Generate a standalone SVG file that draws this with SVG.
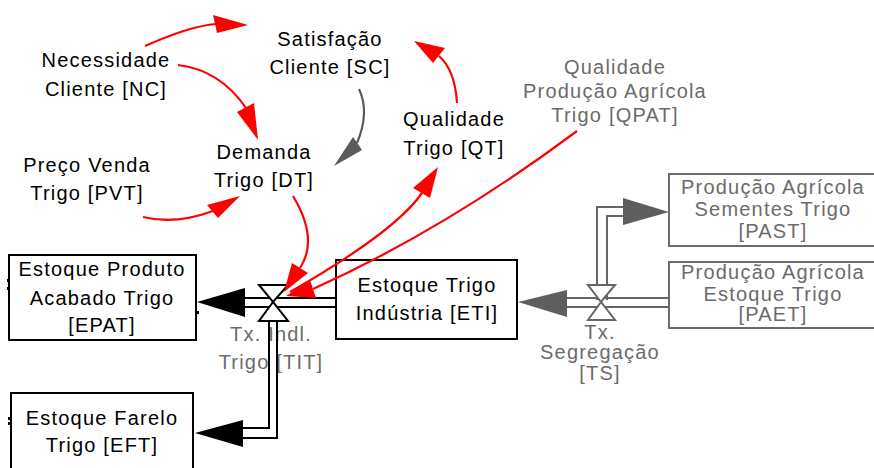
<svg xmlns="http://www.w3.org/2000/svg" width="874" height="468" viewBox="0 0 874 468">
<style>
.t{font-family:"Liberation Sans",Arial,sans-serif;font-size:20px;letter-spacing:1.2px;text-anchor:middle;fill:#000}
.g{fill:#6b6b6b}
.box{fill:#fff;stroke:#000;stroke-width:2}
.gbox{fill:#fff;stroke:#6b6b6b;stroke-width:2}
.red{fill:none;stroke:#f00;stroke-width:2.2}
.rh{fill:#f00}
.pipe{fill:none;stroke:#000;stroke-width:2}
.gpipe{fill:none;stroke:#666;stroke-width:2}
.valve{fill:#fff;stroke:#000;stroke-width:2}
.gvalve{fill:#fff;stroke:#666;stroke-width:2}
</style>
<rect width="874" height="468" fill="#fff"/>

<g id="NC"><text class="t" x="106" y="67">Necessidade</text><text class="t" x="106" y="96">Cliente [NC]</text></g>
<g id="SC"><text class="t" x="330" y="46">Satisfação</text><text class="t" x="330" y="74">Cliente [SC]</text></g>
<g id="DT"><text class="t" x="264" y="159">Demanda</text><text class="t" x="264" y="187">Trigo [DT]</text></g>
<g id="PVT"><text class="t" x="87" y="172">Preço Venda</text><text class="t" x="87" y="200">Trigo [PVT]</text></g>
<g id="QT"><text class="t" x="454" y="126">Qualidade</text><text class="t" x="454" y="155">Trigo [QT]</text></g>
<g id="QPAT"><text class="t g" x="615" y="74">Qualidade</text><text class="t g" x="615" y="98">Produção Agrícola</text><text class="t g" x="615" y="122">Trigo [QPAT]</text></g>

<g id="EPAT"><rect class="box" x="9" y="255" width="187" height="85"/>
<text class="t" x="102" y="276">Estoque Produto</text><text class="t" x="102" y="305">Acabado Trigo</text><text class="t" x="102" y="332">[EPAT]</text>
<path d="M8 279v3M8 287v3M198 311v3" stroke="#000" stroke-width="2"/></g>
<g id="ETI"><rect class="box" x="336" y="260" width="181" height="79"/>
<text class="t" x="427" y="292">Estoque Trigo</text><text class="t" x="427" y="320">Indústria [ETI]</text></g>
<g id="EFT"><rect class="box" x="11" y="393" width="182" height="80"/>
<text class="t" x="102" y="425">Estoque Farelo</text><text class="t" x="102" y="452">Trigo [EFT]</text>
<path d="M9 417v3M9 422v3" stroke="#000" stroke-width="2"/></g>
<g id="PAST"><rect class="gbox" x="669" y="174" width="215" height="72"/>
<text class="t g" x="773" y="194">Produção Agrícola</text><text class="t g" x="773" y="216">Sementes Trigo</text><text class="t g" x="773" y="238">[PAST]</text></g>
<g id="PAET"><rect class="gbox" x="669" y="262" width="215" height="66"/>
<text class="t g" x="773" y="279">Produção Agrícola</text><text class="t g" x="773" y="301">Estoque Trigo</text><text class="t g" x="773" y="321">[PAET]</text></g>
<g id="TIT-label"><text class="t g" x="271" y="341">Tx. Indl.</text><text class="t g" x="271" y="369">Trigo [TIT]</text></g>
<g id="TS-label"><text class="t g" x="600" y="339">Tx.</text><text class="t g" x="600" y="359">Segregação</text><text class="t g" x="600" y="380">[TS]</text></g>

<g id="connectors">
<!-- TIT flow -->
<path class="pipe" d="M240 298H336M240 307H269M277 307H336"/>
<path class="pipe" d="M269 307V428H238M277 307V438H238"/>
<polygon points="197,302 245,288 245,317" fill="#000"/>
<polygon points="195,433 243,420 243,447" fill="#000"/>
<g id="TIT"><polygon class="valve" points="259,285 288,285 273,302"/><polygon class="valve" points="273,302 259,321 288,321"/></g>
<!-- TS flow -->
<path class="gpipe" d="M560 298H669M560 307H669"/>
<path class="gpipe" d="M597 300V207H628M607 300V216H628"/>
<polygon points="518,302 567,290 567,317" fill="#5e5e5e"/>
<polygon points="669,212 623,198 623,225" fill="#5e5e5e"/>
<g id="TS"><polygon class="gvalve" points="588,285 615,285 601,302"/><polygon class="gvalve" points="601,302 588,320 615,320"/></g>
<!-- info links -->
<path class="red" d="M145 46Q190 26 216 24"/>
<polygon class="rh" points="248,25 213,15 217,33"/>
<path class="red" d="M178 65Q220 70 246 108"/>
<polygon class="rh" points="258,140 237,112 254,103"/>
<path class="red" d="M143 217Q175 225 213 211"/>
<polygon class="rh" points="240,196 207,205 218,218"/>
<path fill="none" stroke="#5a5a5a" stroke-width="2.2" d="M359 89Q370 112 357 143"/>
<polygon points="334,166 353,137 362,150" fill="#5a5a5a"/>
<path class="red" d="M457 103Q455 70 439 56"/>
<polygon class="rh" points="414,41 445,48 433,63"/>
<path class="red" d="M290 292Q395 232 422 193"/>
<polygon class="rh" points="438,167 413,188 430,198"/>
<path class="red" d="M577 131Q446 229 313 289"/>
<polygon class="rh" points="286,296 310,280 316,298"/>
<path class="red" d="M293 196Q319 239 300 268"/>
<polygon class="rh" points="284,292 292,263 308,273"/>
</g>
</svg>
